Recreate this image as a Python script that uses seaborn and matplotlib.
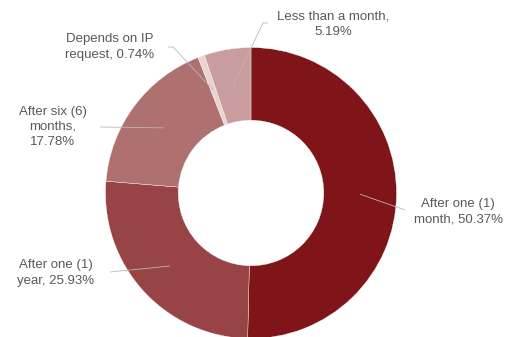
import numpy as np
import matplotlib
matplotlib.use("Agg")
import matplotlib.pyplot as plt
import seaborn as sns

# Share of responses, drawn clockwise from 12 o'clock
categories = [
    "After one (1)\nmonth",
    "After one (1)\nyear",
    "After six (6)\nmonths",
    "Depends on IP\nrequest",
    "Less than a month",
]
shares = [50.37, 25.93, 17.78, 0.74, 5.19]
label_texts = [
    "After one (1)\nmonth, 50.37%",
    "After one (1)\nyear, 25.93%",
    "After six (6)\nmonths,\n17.78%",
    "Depends on IP\nrequest, 0.74%",
    "Less than a month,\n5.19%",
]
colors = ["#7F1518", "#984446", "#AF7070", "#E8D2D2", "#C99C9D"]

sns.set_theme(style="white")
plt.rcParams["font.family"] = ["Liberation Sans", "DejaVu Sans"]

W, H = 514, 337
fig = plt.figure(figsize=(W / 100, H / 100), dpi=100)
ax = fig.add_axes([0, 0, 1, 1])

# Layout of the ring in pixels
CX, CY, R = 251, 193, 145.5


def px(x, y):
    return ((x - CX) / R, (CY - y) / R)


wedges, _ = ax.pie(
    shares,
    colors=colors,
    startangle=90,
    counterclock=False,
    radius=1.0,
    wedgeprops=dict(width=0.5, edgecolor="white", linewidth=0.25),
)

ax.set_xlim(-CX / R, (W - CX) / R)
ax.set_ylim(-(H - CY) / R, CY / R)
ax.set_aspect("auto")
ax.axis("off")

# Label placement: text centre and leader-line path (pixel coords)
text_pos = [(458, 212), (56, 273), (53, 127), (110, 47), (333, 24)]
leader_ends = [
    [(405, 210)],
    [(110, 272)],
    [(100, 127)],
    [(173, 47), (168, 47)],
    [(263, 23), (268, 23)],
]

total = sum(shares)
cum = np.cumsum([0] + shares)
for i, (txt, tp, ends) in enumerate(zip(label_texts, text_pos, leader_ends)):
    mid = (cum[i] + cum[i + 1]) / 2 / total * 360.0
    theta = np.deg2rad(90 - mid)
    r = 0.75
    start = (r * np.cos(theta), r * np.sin(theta))
    pts = [start] + [px(*e) for e in ends]
    xs, ys = zip(*pts)
    ax.plot(xs, ys, color="#B8B8B8", linewidth=0.6, solid_capstyle="butt")
    ax.text(*px(*tp), txt, ha="center", va="center", fontsize=9.5,
            color="#595959", linespacing=1.38)

fig.savefig("out.png", dpi=100)
